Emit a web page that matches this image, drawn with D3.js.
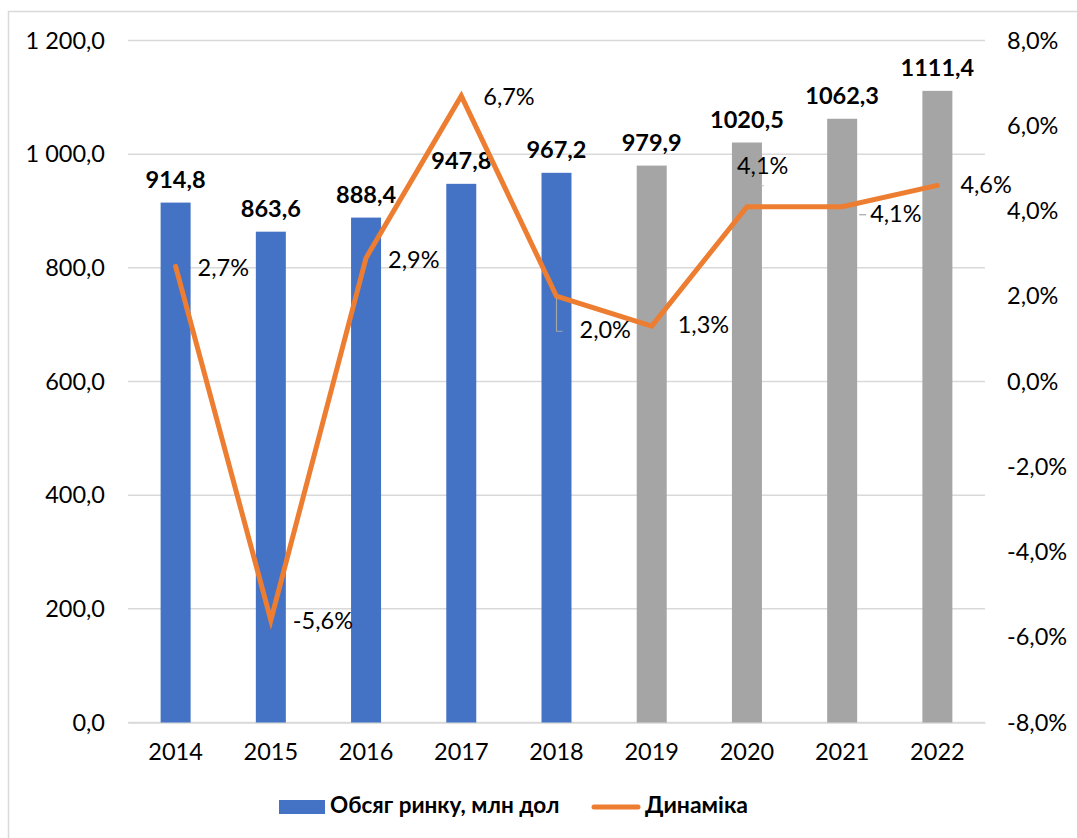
<!DOCTYPE html>
<html>
<head>
<meta charset="utf-8">
<script src="https://cdn.jsdelivr.net/npm/d3@7"></script>
<style>
  body { margin: 0; background: #fff; }
  svg text { font-family: "Lato", "Open Sans", sans-serif; fill: #000; }
</style>
</head>
<body>
<div id="chart"></div>
<script>
// data
var years = ["2014", "2015", "2016", "2017", "2018", "2019", "2020", "2021", "2022"];
var volume = [914.8, 863.6, 888.4, 947.8, 967.2, 979.9, 1020.5, 1062.3, 1111.4];
var growth = [2.7, -5.6, 2.9, 6.7, 2.0, 1.3, 4.1, 4.1, 4.6];
var forecastFrom = "2019";
var leftTicks = [0, 200, 400, 600, 800, 1000, 1200];
var rightTicks = [-8, -6, -4, -2, 0, 2, 4, 6, 8];
var seriesNames = ["Обсяг ринку, млн дол", "Динаміка"];

var W = 1077, H = 838;
var margin = { top: 40.5, right: 92, bottom: 115.5, left: 128 },
  width = W - margin.left - margin.right,
  height = H - margin.top - margin.bottom;

// axis ticks: "1 200,0"
var fmtAxis = function (v) {
  var parts = v.toFixed(1).split(".");
  parts[0] = parts[0].replace(/\B(?=(\d{3})+(?!\d))/g, " ");
  return parts.join(",");
};
// bar labels: "1020,5"
var fmtVal = function (v) { return v.toFixed(1).replace(".", ","); };
var fmtPct = function (v) { return v.toFixed(1).replace(".", ",") + "%"; };

var x = d3.scaleBand().domain(years).range([0, width]).paddingInner(0.685).paddingOuter(0.3425);
var y = d3.scaleLinear().domain([0, 1200]).range([height, 0]);
var y2 = d3.scaleLinear().domain([-8, 8]).range([height, 0]);

var svg = d3.select("#chart").append("svg").attr("width", W).attr("height", H);

// outer frame
svg.append("rect")
  .attr("x", 8.5).attr("y", 11.5).attr("width", W).attr("height", H)
  .attr("fill", "none").attr("stroke", "#d9d9d9").attr("stroke-width", 1.5);

var g = svg.append("g").attr("transform", "translate(" + margin.left + "," + margin.top + ")");

// gridlines
g.append("g").selectAll("line").data(leftTicks).enter().append("line")
  .attr("x1", 0).attr("x2", width)
  .attr("y1", function (d) { return y(d); }).attr("y2", function (d) { return y(d); })
  .attr("stroke", "#d9d9d9").attr("stroke-width", 1.5);

// left axis
var yAxis = g.append("g")
  .call(d3.axisLeft(y).tickValues(leftTicks).tickFormat(fmtAxis).tickSize(0).tickPadding(23));
yAxis.select(".domain").remove();
yAxis.selectAll("text").style("font-size", "23.5px").attr("font-family", null);

// right axis
var yAxis2 = g.append("g").attr("transform", "translate(" + width + ",0)")
  .call(d3.axisRight(y2).tickValues(rightTicks).tickFormat(fmtPct).tickSize(0).tickPadding(22));
yAxis2.select(".domain").remove();
yAxis2.selectAll("text").style("font-size", "23.5px").attr("text-anchor", "start").attr("font-family", null);

// bottom axis
var xAxis = g.append("g").attr("transform", "translate(0," + height + ")")
  .call(d3.axisBottom(x).tickSize(0).tickPadding(21));
xAxis.select(".domain").attr("stroke", "#d9d9d9").attr("stroke-width", 1.5);
xAxis.selectAll("text").style("font-size", "23.5px").attr("font-family", null);

// bars
g.selectAll(".bar").data(years).enter().append("rect")
  .attr("class", "bar")
  .attr("x", function (d) { return x(d); })
  .attr("width", x.bandwidth())
  .attr("y", function (d, i) { return y(volume[i]); })
  .attr("height", function (d, i) { return height - y(volume[i]); })
  .attr("fill", function (d) { return +d >= +forecastFrom ? "#a5a5a5" : "#4472c4"; });

// bar value labels
g.selectAll(".vlab").data(years).enter().append("text")
  .attr("class", "vlab")
  .attr("x", function (d) { return x(d) + x.bandwidth() / 2; })
  .attr("y", function (d, i) { return y(volume[i]) - 15; })
  .attr("text-anchor", "middle")
  .style("font-size", "23.5px").style("font-weight", "bold")
  .text(function (d, i) { return fmtVal(volume[i]); });

// growth line
var cx = function (d) { return x(d) + x.bandwidth() / 2; };
var line = d3.line()
  .x(function (d) { return cx(d); })
  .y(function (d, i) { return y2(growth[i]); });
g.append("path").datum(years)
  .attr("d", line)
  .attr("fill", "none").attr("stroke", "#ed7d31").attr("stroke-width", 5)
  .attr("stroke-linejoin", "miter").attr("stroke-linecap", "round");

// label offsets (dx, dy from the point)
var pctOffsets = [[22, 4], [22, 3], [22, 4], [22, 3], [23, 36], [26, 1], [-10, -39], [28, 9], [23, 2]];

// leader lines for shifted labels
var lead2018 = [[0, 2], [0, 35], [6, 35]];
g.append("path")
  .attr("d", d3.line()(lead2018.map(function (p) { return [cx("2018") + p[0], y2(growth[4]) + p[1]]; })))
  .attr("fill", "none").attr("stroke", "#a5a5a5").attr("stroke-width", 1.2);
g.append("line")
  .attr("x1", cx("2020") + 14).attr("x2", cx("2020") + 17)
  .attr("y1", y2(growth[6]) - 21).attr("y2", y2(growth[6]) - 21)
  .attr("stroke", "#bfbfbf").attr("stroke-width", 1);
g.append("line")
  .attr("x1", cx("2021") + 17).attr("x2", cx("2021") + 24)
  .attr("y1", y2(growth[7]) + 8).attr("y2", y2(growth[7]) + 8)
  .attr("stroke", "#a5a5a5").attr("stroke-width", 1.2);

g.selectAll(".plab").data(years).enter().append("text")
  .attr("class", "plab")
  .attr("x", function (d, i) { return cx(d) + pctOffsets[i][0]; })
  .attr("y", function (d, i) { return y2(growth[i]) + pctOffsets[i][1]; })
  .attr("dominant-baseline", "middle")
  .style("font-size", "23.5px")
  .text(function (d, i) { return fmtPct(growth[i]); });

// legend
var lg = svg.append("g").attr("transform", "translate(0,807)");
lg.append("rect").attr("x", 279).attr("y", -7).attr("width", 46).attr("height", 14).attr("fill", "#4472c4");
lg.append("text").attr("x", 330).attr("y", 0).attr("dominant-baseline", "middle")
  .style("font-size", "22.5px").style("font-weight", "bold").text(seriesNames[0]);
lg.append("line").attr("x1", 594).attr("x2", 638).attr("y1", 0).attr("y2", 0)
  .attr("stroke", "#ed7d31").attr("stroke-width", 5).attr("stroke-linecap", "round");
lg.append("text").attr("x", 645).attr("y", 0).attr("dominant-baseline", "middle")
  .style("font-size", "23px").style("font-weight", "bold").text(seriesNames[1]);
</script>
</body>
</html>
